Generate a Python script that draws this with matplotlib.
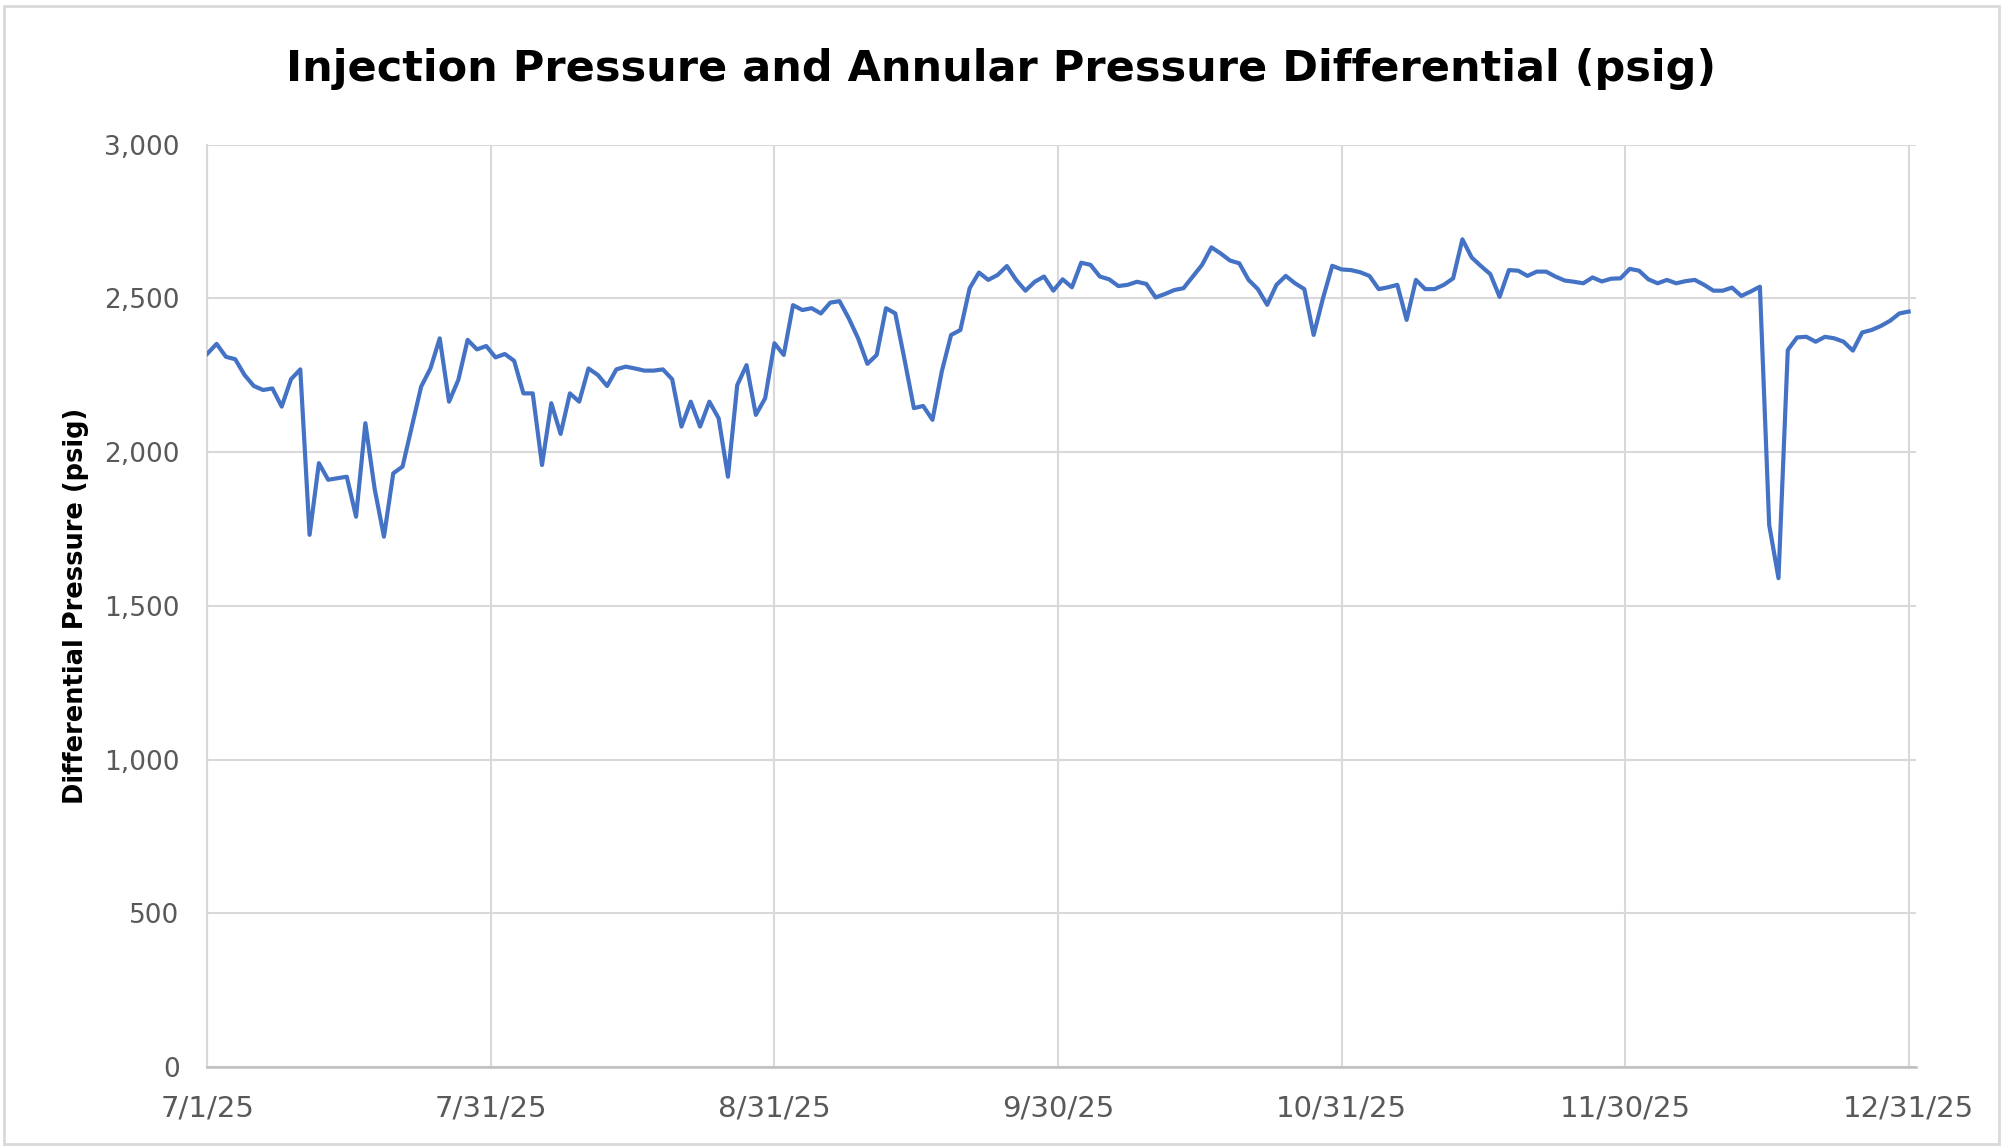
"""
Injection pressure / annular pressure differential, daily values Jul-Dec 2025.
Run `python plot.py` to write out.png.
"""

import matplotlib

matplotlib.use("Agg")
import matplotlib.pyplot as plt
from matplotlib.patches import Rectangle
from matplotlib.ticker import FuncFormatter

# --------- Data (one value per day) ---------

pressure = [
    2320, 2352, 2310, 2302, 2251, 2215, 2202, 2207, 2148, 2237,
    2269, 1731, 1964, 1910, 1915, 1920, 1790, 2094, 1880, 1725,
    1931, 1953, 2083, 2213, 2272, 2370, 2164, 2235, 2365, 2334,
    2345, 2308, 2319, 2297, 2191, 2191, 1958, 2159, 2059, 2191,
    2164, 2272, 2251, 2215, 2269, 2278, 2272, 2265, 2265, 2269,
    2237, 2083, 2164, 2083, 2164, 2110, 1920, 2218, 2283, 2121,
    2175, 2354, 2316, 2478, 2462, 2468, 2451, 2486, 2491, 2435,
    2370, 2287, 2316, 2468, 2451, 2300, 2143, 2150, 2105, 2262,
    2381, 2397, 2533, 2584, 2560, 2576, 2605, 2560, 2525, 2554,
    2571, 2525, 2562, 2536, 2616, 2609, 2571, 2562, 2540, 2544,
    2554, 2547, 2503, 2514, 2527, 2533, 2571, 2609, 2666, 2646,
    2623, 2614, 2560, 2530, 2479, 2544, 2573, 2549, 2530, 2381,
    2500, 2606, 2594, 2592, 2585, 2573, 2530, 2536, 2544, 2430,
    2560, 2530, 2530, 2544, 2565, 2692, 2633, 2605, 2579, 2505,
    2592, 2590, 2573, 2587, 2587, 2571, 2558, 2554, 2549, 2568,
    2555, 2564, 2565, 2596, 2590, 2562, 2549, 2560, 2549, 2556,
    2560, 2544, 2525, 2525, 2535, 2508, 2522, 2538, 1763, 1590,
    2332, 2373, 2375, 2359, 2375, 2370, 2359, 2330, 2389, 2397,
    2410, 2427, 2451, 2457,
]
days = list(range(len(pressure)))

tick_labels = ["7/1/25", "7/31/25", "8/31/25", "9/30/25",
               "10/31/25", "11/30/25", "12/31/25"]
y_ticks = [0, 500, 1000, 1500, 2000, 2500, 3000]

# --------- Style ---------

LINE_BLUE = "#4472C4"
GRID_GREY = "#D9D9D9"
AXIS_GREY = "#BFBFBF"
TEXT_GREY = "#595959"


def main():
    fig = plt.figure(figsize=(20.07, 11.46), dpi=100)
    ax = fig.add_axes([0.1033, 0.0689, 0.8514, 0.8049])

    ax.plot(days, pressure, color=LINE_BLUE, linewidth=3.0,
            solid_joinstyle="round", zorder=3)

    last = days[-1]
    ax.set_xlim(0, last + 0.8)
    ax.set_ylim(0, 3000)
    ax.set_xticks([last * k / 6 for k in range(7)])
    ax.set_xticklabels(tick_labels)
    ax.set_yticks(y_ticks)
    ax.yaxis.set_major_formatter(FuncFormatter(lambda v, _: f"{v:,.0f}"))

    ax.grid(True, color=GRID_GREY, linewidth=1.5)
    ax.set_axisbelow(True)
    for side in ("top", "right"):
        ax.spines[side].set_visible(False)
    ax.spines["left"].set_color(GRID_GREY)
    ax.spines["left"].set_linewidth(1.5)
    ax.spines["bottom"].set_color(AXIS_GREY)
    ax.spines["bottom"].set_linewidth(1.8)

    ax.tick_params(axis="both", length=0, colors=TEXT_GREY, pad=20)
    for lab in ax.get_xticklabels():
        lab.set_fontsize(21)
    for lab in ax.get_yticklabels():
        lab.set_fontsize(19)

    ax.set_ylabel("Differential Pressure (psig)", fontsize=18.5,
                  fontweight="bold", color="black", labelpad=11)
    fig.text(0.499, 0.94, "Injection Pressure and Annular Pressure Differential (psig)",
             fontsize=31, fontweight="bold", ha="center", va="center")

    # chart-area border
    fig.patches.append(Rectangle((0.002, 0.002), 0.994, 0.993, transform=fig.transFigure,
                                 fill=False, edgecolor=GRID_GREY, linewidth=2))

    fig.savefig("out.png", dpi=100)
    plt.close(fig)


if __name__ == "__main__":
    main()
